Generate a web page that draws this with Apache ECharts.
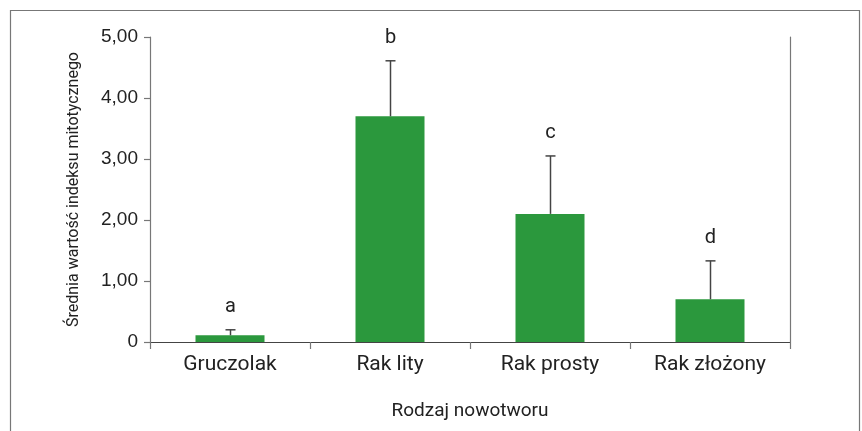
<!DOCTYPE html>
<html><head><meta charset="utf-8">
<script src="https://cdn.jsdelivr.net/npm/echarts@6/dist/echarts.min.js"></script>
<style>html,body{margin:0;padding:0;background:#fff}#c{width:862px;height:431px}</style>
</head><body><div id="c"></div>
<script>
const categories = ['Gruczolak', 'Rak lity', 'Rak prosty', 'Rak złożony'];
const means = [0.11, 3.70, 2.10, 0.70];
const errorTops = [0.20, 4.61, 3.05, 1.33];
const letters = ['a', 'b', 'c', 'd'];
const yTicks = [0, 1, 2, 3, 4, 5];

const chart = echarts.init(document.getElementById('c'));
const axisColor = '#777';
const textColor = '#222';
chart.setOption({
  animation: false,
  graphic: [{type: 'rect', shape: {x: 10.5, y: 10.5, width: 849, height: 440}, style: {fill: 'none', stroke: '#777', lineWidth: 1.2}, silent: true}],
  grid: {left: 150, right: 72, top: 37, bottom: 89},
  xAxis: {
    type: 'category', data: categories,
    axisLine: {lineStyle: {color: '#444', width: 1.2}},
    axisTick: {show: true, length: 7, lineStyle: {color: axisColor, width: 1.2}},
    axisLabel: {color: textColor, fontFamily: 'Roboto', fontSize: 21, margin: 12},
    name: 'Rodzaj nowotworu', nameLocation: 'middle', nameGap: 60,
    nameTextStyle: {color: textColor, fontFamily: 'Roboto', fontSize: 19}
  },
  yAxis: [{
    type: 'value', min: 0, max: 5, interval: 1,
    axisLine: {show: true, lineStyle: {color: axisColor, width: 1.2}},
    axisTick: {show: true, length: 6, lineStyle: {color: axisColor, width: 1.2}},
    splitLine: {show: false},
    axisLabel: {color: textColor, fontFamily: 'Liberation Sans', fontSize: 19, margin: 12,
      formatter: v => yTicks.includes(v) ? (v === 0 ? '0' : v.toFixed(2).replace('.', ',')) : ''},
    name: 'Średnia wartość indeksu mitotycznego', nameLocation: 'middle', nameGap: 68,
    nameTextStyle: {color: textColor, fontFamily: 'Roboto', fontSize: 16}
  }, {
    type: 'value', min: 0, max: 5, interval: 1, position: 'right',
    axisLine: {show: true, lineStyle: {color: axisColor, width: 1.2}},
    axisTick: {show: false}, axisLabel: {show: false}, splitLine: {show: false}
  }],
  series: [{
    type: 'bar', data: means, barWidth: 69,
    itemStyle: {color: '#2b983d'}
  }, {
    type: 'custom', z: 5,
    data: categories.map((c, i) => [i, means[i], errorTops[i]]),
    renderItem: (params, api) => {
      const base = api.coord([api.value(0), api.value(1)]);
      const top = api.coord([api.value(0), api.value(2)]);
      const x = Math.round(base[0]) + 0.5;
      const st = {stroke: '#444', lineWidth: 1.5};
      const i = params.dataIndex;
      return {type: 'group', children: [
        {type: 'line', shape: {x1: x, y1: base[1], x2: x, y2: top[1]}, style: st},
        {type: 'line', shape: {x1: x - 5, y1: top[1], x2: x + 5, y2: top[1]}, style: st},
        {type: 'text', style: {x: x, y: top[1] - 23, text: letters[i], align: 'center', verticalAlign: 'middle',
          fill: textColor, font: '20px Roboto'}}
      ]};
    }
  }]
});
</script></body></html>
